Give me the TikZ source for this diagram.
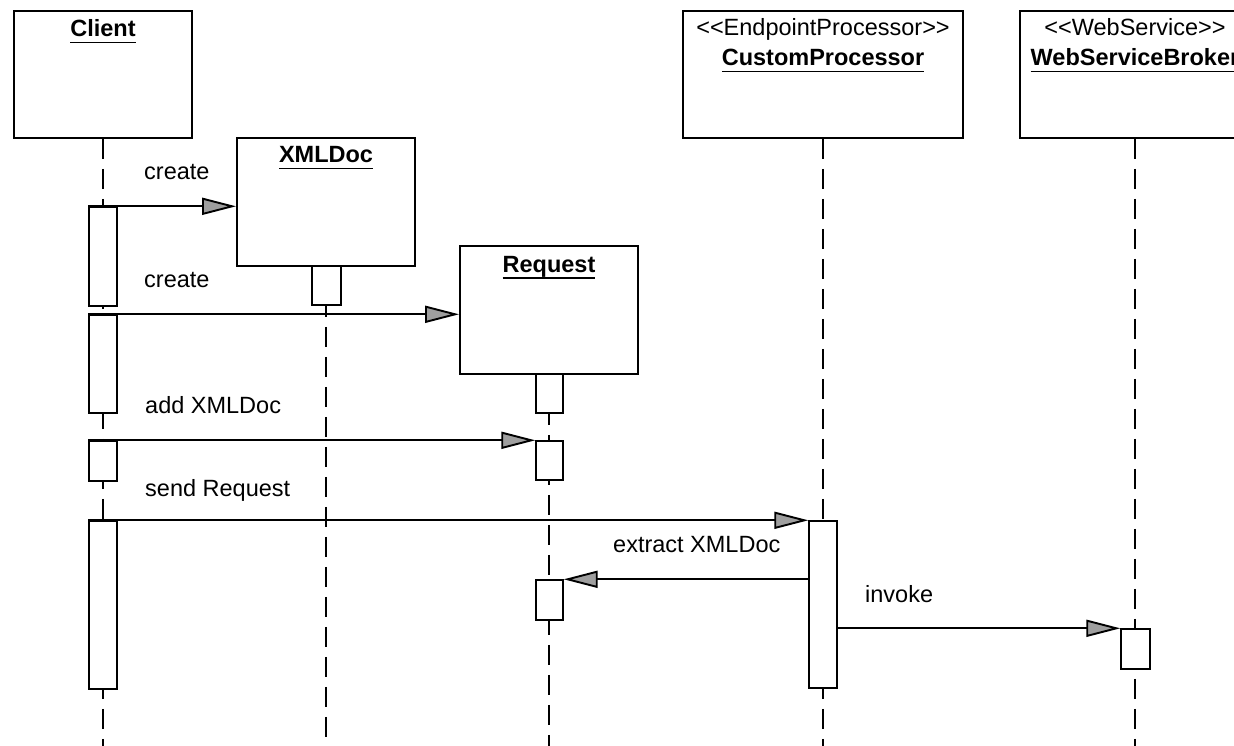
\documentclass[tikz,border=0pt]{standalone}
\usepackage{fontspec}
\setmainfont{Liberation Sans}
\usetikzlibrary{arrows.meta}
% bold object name with a heavy underline
\newcommand{\ulname}[1]{\setbox0=\hbox{\bfseries #1}\rlap{\rule[-6.5pt]{\wd0}{1.6pt}}\box0}
% stereotype in plain double angle brackets
\newcommand{\stereo}[1]{<{}<#1>{}>}
\begin{document}
\begin{tikzpicture}[x=1pt,y=-1pt,
  font=\fontsize{23.5}{28}\selectfont,
  objbox/.style={draw, line width=1.9pt, fill=white, inner sep=0pt},
  actbar/.style={draw, line width=1.4pt, fill=white, inner sep=0pt, minimum width=28pt},
  lifeline/.style={line width=1.9pt, dash pattern=on 20pt off 10pt},
  msg/.style={line width=1.9pt, -{Triangle[length=34pt,width=17pt,fill=gray!75]}},
  msglabel/.style={anchor=base west, inner sep=0pt},
  title/.style={anchor=base, inner sep=0pt}]

\useasboundingbox (0,0) rectangle (1234,746);
\fill[white] (0,0) rectangle (1234,746);
\clip (0,0) rectangle (1234,746);

% object boxes
\node[objbox, minimum width=178pt, minimum height=127pt] (client) at (103,74.5) {};
\node[objbox, minimum width=178pt, minimum height=128pt] (xmldoc) at (326,202) {};
\node[objbox, minimum width=178pt, minimum height=128pt] (request) at (549,310) {};
\node[objbox, minimum width=280pt, minimum height=127pt] (cproc) at (823,74.5) {};
\node[objbox, minimum width=230pt, minimum height=127pt] (broker) at (1135,74.5) {};

% object titles
\node[title] (client-name) at (103,37) {\ulname{Client}};
\node[title] (xmldoc-name) at (326,163) {\ulname{XMLDoc}};
\node[title] (request-name) at (549,272) {\ulname{Request}};
\node[title] (cproc-st) at (823,36) {\stereo{EndpointProcessor}};
\node[title] (cproc-name) at (823,66) {\ulname{CustomProcessor}};
\node[title] (broker-st) at (1135,36) {\stereo{WebService}};
\node[title] (broker-name) at (1135,66) {\ulname{WebServiceBroker}};

% lifeline ends
\coordinate (client-end) at (103,746);
\coordinate (xmldoc-end) at (326,746);
\coordinate (request-end) at (549,746);
\coordinate (cproc-end) at (823,746);
\coordinate (broker-end) at (1135,746);

% lifelines
\draw[lifeline] (client.south) -- (client-end);
\draw[lifeline] (xmldoc.south) -- (xmldoc-end);
\draw[lifeline] (request.south) -- (request-end);
\draw[lifeline] (cproc.south) -- (cproc-end);
\draw[lifeline] (broker.south) -- (broker-end);

% activation bars
\node[actbar, minimum height=99pt] (cbar1) at (103,256.5) {};
\node[actbar, minimum height=98pt] (cbar2) at (103,364) {};
\node[actbar, minimum height=40pt] (cbar3) at (103,461) {};
\node[actbar, minimum height=168pt] (cbar4) at (103,605) {};
\node[actbar, minimum width=29pt, minimum height=39pt] (xbar) at (326.5,285.5) {};
\node[actbar, minimum width=27pt, minimum height=39pt] (rbar1) at (549.5,393.5) {};
\node[actbar, minimum width=27pt, minimum height=39pt] (rbar2) at (549.5,460.5) {};
\node[actbar, minimum width=27pt, minimum height=40pt] (rbar3) at (549.5,600) {};
\node[actbar, minimum height=167pt] (cpbar) at (823,604.5) {};
\node[actbar, minimum width=29pt, minimum height=40pt] (bbar) at (1135.5,649) {};

% messages
\draw[msg] (cbar1.north west) -- (xmldoc.west |- cbar1.north);
\draw[msg] (cbar2.north west) -- (request.west |- cbar2.north);
\draw[msg] (cbar3.north west) -- (rbar2.north west);
\draw[msg] (cbar4.north west) -- (cpbar.north west);
\draw[msg] (cpbar.west |- rbar3.north) -- (rbar3.north east);
\draw[msg] (cpbar.east |- bbar.north) -- (bbar.north west);

% message labels
\node[msglabel] (l-create1) at (144,180) {create};
\node[msglabel] (l-create2) at (144,287) {create};
\node[msglabel] (l-add) at (145,413) {add XMLDoc};
\node[msglabel] (l-send) at (145,496) {send Request};
\node[msglabel] (l-extract) at (613,552) {extract XMLDoc};
\node[msglabel] (l-invoke) at (865,602) {invoke};
\end{tikzpicture}
\end{document}
